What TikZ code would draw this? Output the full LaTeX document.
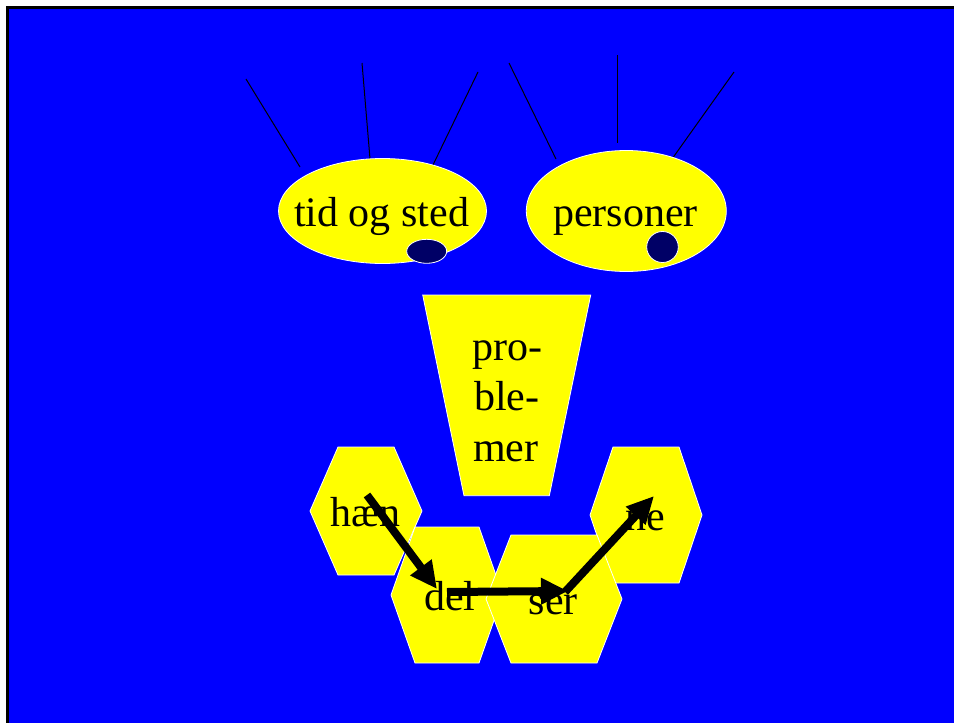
\documentclass[tikz,border=0pt]{standalone}
\usepackage{fontspec}
\setmainfont{Liberation Serif}
\usetikzlibrary{arrows.meta}
\definecolor{slideblue}{RGB}{0,0,255}
\definecolor{slideyellow}{RGB}{255,255,0}
\definecolor{pupil}{RGB}{0,0,102}
\tikzset{
  yellowpart/.style={fill=slideyellow, draw=white, line width=0.8pt},
  pupilpart/.style={fill=pupil, draw=white, line width=0.8pt},
  bigtext/.style={font=\fontsize{42}{50}\selectfont, inner sep=0pt, anchor=base},
  ray/.style={black, line width=1pt},
  walk/.style={-{Triangle[length=27pt,width=25pt]}, line width=8pt, black},
}
\begin{document}
\begin{tikzpicture}[x=1pt,y=-1pt]
  \useasboundingbox (0,0) rectangle (954,723);
  \fill[white] (0,0) rectangle (954,723);
  \fill[slideblue] (7.5,7.5) rectangle (960,730);
  \draw[black, line width=3pt] (7.5,730) -- (7.5,7.5) -- (960,7.5);
  % straaler
  \foreach \xa/\ya/\xb/\yb in {246/79/300/167, 362/63/370/159, 478/72/432/167, 509/63/556/159, 617.5/55/617.5/143, 734/72/672/159} {
      \draw[ray] (\xa,\ya) -- (\xb,\yb);
  }
  % oejne
  \filldraw[yellowpart] (382.5,211) ellipse [x radius=104, y radius=52.5];
  \filldraw[yellowpart] (626.3,211) ellipse [x radius=100, y radius=60.5];
  \filldraw[pupilpart] (426.7,251.3) ellipse [x radius=20, y radius=12];
  \filldraw[pupilpart] (662.5,247) ellipse [x radius=15.8, y radius=15.5];
  \node[bigtext] (tid) at (381.5,226) {tid og sted};
  \node[bigtext] (personer) at (625.5,226) {personer};
  % naese
  \filldraw[yellowpart] (422.7,295) -- (590.7,295) -- (549.3,495.7) -- (464,495.7) -- cycle;
  \node[bigtext, anchor=base west] (pro) at (472,360) {pro-};
  \node[bigtext, anchor=base west] (ble) at (474,410.5) {ble-};
  \node[bigtext, anchor=base west] (mer) at (473,461) {mer};
  % mund
  \foreach \cx/\cy/\hw/\hh/\tw in {366/511/56/64/28, 646/515/56/68/33, 447/595/56/68/32, 554/599/68/64/43} {
      \filldraw[yellowpart] (\cx-\hw,\cy) -- (\cx-\tw,\cy-\hh) -- (\cx+\tw,\cy-\hh)
        -- (\cx+\hw,\cy) -- (\cx+\tw,\cy+\hh) -- (\cx-\tw,\cy+\hh) -- cycle;
  }
  \node[bigtext] (haen) at (365.3,526) {hæn};
  \node[bigtext] (ne) at (645.8,530) {ne};
  \node[bigtext] (del) at (450,610.7) {del};
  \node[bigtext] (ser) at (553.3,614) {ser};
  \coordinate (s1) at (367,495);
  \coordinate (s2) at (437,589);
  \coordinate (s3) at (447,592);
  \coordinate (s4) at (568,591);
  \coordinate (s5) at (565,592);
  \coordinate (s6) at (654,496);
  \draw[walk] (s1) -- (s2);
  \draw[walk] (s3) -- (s4);
  \draw[walk] (s5) -- (s6);
\end{tikzpicture}
\end{document}
